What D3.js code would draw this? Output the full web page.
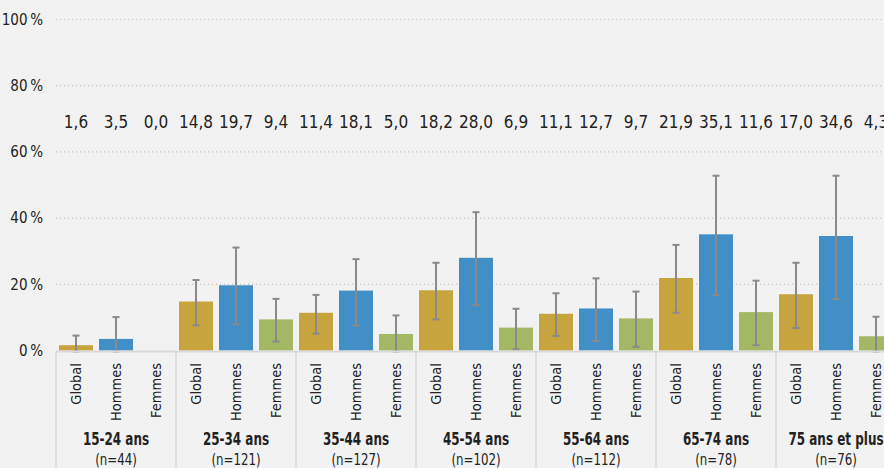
<!DOCTYPE html>
<html><head><meta charset="utf-8">
<script src="https://cdn.jsdelivr.net/npm/d3@7"></script>
<style>
html,body{margin:0;padding:0;background:#f2f2f2;}
svg{display:block;}
.txt{font-family:"DejaVu Sans Condensed","Liberation Sans Narrow",sans-serif;fill:#222;}
.num{font-family:"DejaVu Sans Condensed","Liberation Sans Narrow",sans-serif;fill:#222;}
</style></head>
<body>
<svg id="chart" width="884" height="468"></svg>
<script>
const groups = ["15-24 ans","25-34 ans","35-44 ans","45-54 ans","55-64 ans","65-74 ans","75 ans et plus"];
const groupN = ["(n=44)","(n=121)","(n=127)","(n=102)","(n=112)","(n=78)","(n=76)"];
const series = ["Global","Hommes","Femmes"];
const colors = ["#c7a43d","#428fc7","#a3b764"];
const valGlobal = [1.6,14.8,11.4,18.2,11.1,21.9,17.0];
const valHommes = [3.5,19.7,18.1,28.0,12.7,35.1,34.6];
const valFemmes = [0.0,9.4,5.0,6.9,9.7,11.6,4.3];
const lowGlobal = [0,7.9,5.4,9.7,4.7,11.7,7.1];
const highGlobal = [4.5,21.3,16.8,26.5,17.3,31.9,26.5];
const lowHommes = [0,8.2,7.9,14.0,3.2,17.0,15.8];
const highHommes = [10.1,31.1,27.6,41.8,21.8,52.8,52.8];
const lowFemmes = [null,3.0,0,0.7,1.4,1.9,0];
const highFemmes = [null,15.6,10.6,12.6,17.8,21.1,10.2];
const yTicks = [0,20,40,60,80,100];

const vals = [valGlobal,valHommes,valFemmes];
const lows = [lowGlobal,lowHommes,lowFemmes];
const highs = [highGlobal,highHommes,highFemmes];

const data = [];
groups.forEach((g,gi)=>{
  series.forEach((s,si)=>{
    data.push({g,gi,s,si,v:vals[si][gi],lo:lows[si][gi],hi:highs[si][gi]});
  });
});

const svg = d3.select("#chart");
const x0 = d3.scaleBand().domain(groups).range([56,896]);
const x1 = d3.scaleBand().domain(series).range([0,x0.bandwidth()]).paddingInner(0.15).paddingOuter(0.075);
const y = d3.scaleLinear().domain([0,100]).range([350.5,19.5]);
const fmt = d => d.toFixed(1).replace(".",",");
const cx = d => x0(d.g)+x1(d.s)+x1.bandwidth()/2;

// gridlines
svg.append("g").selectAll("line").data(yTicks.filter(d=>d>0)).join("line")
  .attr("x1",56).attr("x2",884).attr("y1",d=>y(d)).attr("y2",d=>y(d))
  .attr("stroke","#c4c4c4").attr("stroke-width",1.2).attr("stroke-dasharray","1.2,2.8");

// y axis labels
const yAxis = d3.axisLeft(y).tickValues(yTicks).tickSize(0).tickPadding(0).tickFormat(d=>d+"\u2009%");
const ya = svg.append("g").attr("transform","translate(43,0)").call(yAxis);
ya.select(".domain").remove();
ya.selectAll("text").attr("font-size",15).style("font-family","'DejaVu Sans Condensed',sans-serif").attr("fill","#222");

// bars
svg.append("g").selectAll("rect").data(data.filter(d=>d.v>0)).join("rect")
  .attr("x",d=>x0(d.g)+x1(d.s)).attr("width",x1.bandwidth())
  .attr("y",d=>y(d.v)).attr("height",d=>y(0)-y(d.v))
  .attr("fill",d=>colors[d.si]);

// error bars
const eb = svg.append("g").attr("stroke","#8a8a8a").attr("stroke-width",2);
const ed = data.filter(d=>d.hi!=null);
eb.selectAll("line.v").data(ed).join("line").attr("class","v")
  .attr("x1",cx).attr("x2",cx).attr("y1",d=>y(d.hi)).attr("y2",d=>y(d.lo)+1);
eb.selectAll("line.t").data(ed).join("line").attr("class","t")
  .attr("x1",d=>cx(d)-3.5).attr("x2",d=>cx(d)+3.5).attr("y1",d=>y(d.hi)).attr("y2",d=>y(d.hi));
eb.selectAll("line.b").data(ed).join("line").attr("class","b")
  .attr("x1",d=>cx(d)-3.5).attr("x2",d=>cx(d)+3.5).attr("y1",d=>y(d.lo)+1).attr("y2",d=>y(d.lo)+1);

// axis baseline and separators
svg.append("line").attr("x1",56).attr("x2",884).attr("y1",y(0)+1).attr("y2",y(0)+1)
  .attr("stroke","#d9d9d9").attr("stroke-width",1.8);
svg.append("g").selectAll("line").data(groups.concat(["end"])).join("line")
  .attr("x1",(d,i)=>x0.range()[0]+i*x0.step()).attr("x2",(d,i)=>x0.range()[0]+i*x0.step())
  .attr("y1",y(0)+1).attr("y2",468).attr("stroke","#d9d9d9").attr("stroke-width",1.5);

// value labels
svg.append("g").selectAll("text").data(data).join("text").attr("class","num")
  .attr("x",cx).attr("y",128)
  .attr("text-anchor","middle").attr("font-size",17).text(d=>fmt(d.v));

// category labels (rotated)
svg.append("g").selectAll("text").data(data).join("text").attr("class","txt")
  .attr("transform",d=>`translate(${cx(d)},363) rotate(-90)`)
  .attr("text-anchor","end").attr("dy","0.35em").attr("font-size",14.5).text(d=>d.s);

// group labels
svg.append("g").selectAll("text").data(groups).join("text").attr("class","txt")
  .attr("transform",d=>`translate(${x0(d)+x0.bandwidth()/2},445) scale(0.74,1)`)
  .attr("text-anchor","middle")
  .attr("font-size",18).attr("font-weight","bold").text(d=>d);
svg.append("g").selectAll("text").data(groupN).join("text").attr("class","txt")
  .attr("transform",(d,i)=>`translate(${x0(groups[i])+x0.bandwidth()/2},465) scale(0.82,1)`)
  .attr("text-anchor","middle")
  .attr("font-size",16).text(d=>d);
</script>
</body></html>
